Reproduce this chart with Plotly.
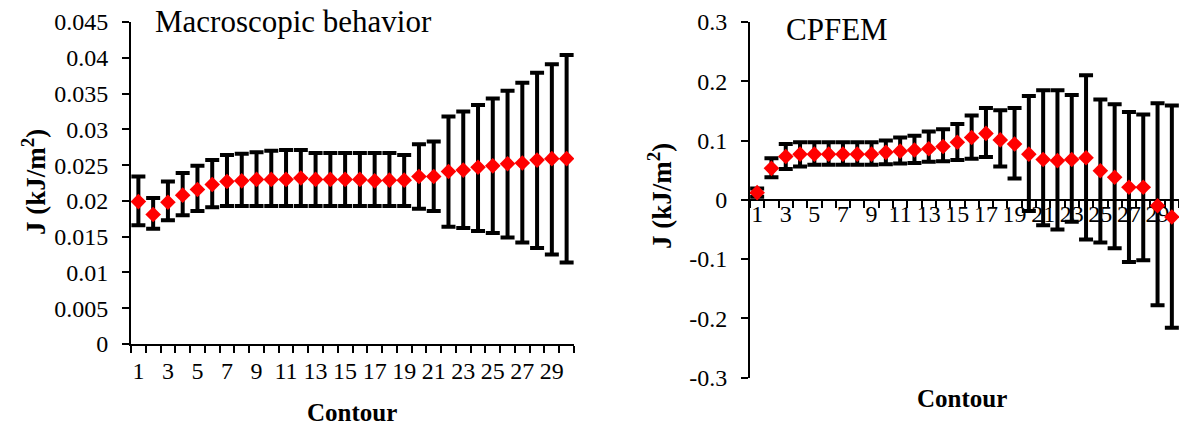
import plotly.graph_objects as go

# contour index 1..30
contour = list(range(1, 31))
x_tick_vals = list(range(1, 30, 2))
x_tick_text = [str(v) for v in x_tick_vals]

# left panel - macroscopic behaviour
macro_j = [0.0199, 0.0181, 0.0198, 0.0208, 0.0216, 0.0223, 0.0227, 0.0228, 0.0230, 0.0230,
           0.0230, 0.0232, 0.0230, 0.0230, 0.0230, 0.0230, 0.0228, 0.0229, 0.0229, 0.0234,
           0.0234, 0.0241, 0.0243, 0.0247, 0.0249, 0.0252, 0.0253, 0.0257, 0.0259, 0.0259]
macro_upper = [0.0234, 0.0204, 0.0227, 0.0239, 0.0249, 0.0257, 0.0264, 0.0266, 0.0268, 0.0270,
               0.0271, 0.0271, 0.0267, 0.0267, 0.0267, 0.0267, 0.0267, 0.0267, 0.0264, 0.0279,
               0.0283, 0.0318, 0.0325, 0.0334, 0.0343, 0.0354, 0.0365, 0.0379, 0.0391, 0.0404]
macro_lower = [0.0166, 0.0161, 0.0173, 0.0180, 0.0186, 0.0191, 0.0193, 0.0193, 0.0193, 0.0193,
               0.0193, 0.0193, 0.0193, 0.0193, 0.0193, 0.0193, 0.0193, 0.0193, 0.0193, 0.0189,
               0.0186, 0.0164, 0.0162, 0.0158, 0.0155, 0.0149, 0.0142, 0.0134, 0.0125, 0.0114]
macro_y_vals = [0, 0.005, 0.01, 0.015, 0.02, 0.025, 0.03, 0.035, 0.04, 0.045]
macro_y_text = ["0", "0.005", "0.01", "0.015", "0.02", "0.025", "0.03", "0.035", "0.04", "0.045"]

# right panel - CPFEM
cpfem_j = [0.012, 0.053, 0.073, 0.077, 0.077, 0.077, 0.077, 0.077, 0.077, 0.080,
           0.082, 0.084, 0.086, 0.090, 0.097, 0.105, 0.112, 0.101, 0.094, 0.077,
           0.068, 0.066, 0.068, 0.071, 0.049, 0.038, 0.021, 0.021, -0.010, -0.029]
cpfem_upper = [0.019, 0.070, 0.094, 0.097, 0.097, 0.097, 0.097, 0.097, 0.097, 0.100,
               0.105, 0.108, 0.115, 0.119, 0.128, 0.142, 0.155, 0.151, 0.155, 0.175,
               0.185, 0.185, 0.177, 0.210, 0.169, 0.161, 0.148, 0.144, 0.163, 0.159]
cpfem_lower = [0.005, 0.038, 0.052, 0.056, 0.059, 0.059, 0.059, 0.059, 0.059, 0.060,
               0.061, 0.062, 0.064, 0.065, 0.067, 0.069, 0.072, 0.056, 0.036, -0.019,
               -0.043, -0.050, -0.037, -0.067, -0.072, -0.082, -0.105, -0.102, -0.178, -0.216]
cpfem_y_vals = [-0.3, -0.2, -0.1, 0, 0.1, 0.2, 0.3]
cpfem_y_text = ["-0.3", "-0.2", "-0.1", "0", "0.1", "0.2", "0.3"]

W, H = 1179, 427
FONT = "Liberation Serif, Times New Roman, serif"


def err_bar(vals, upper, lower):
    return dict(
        type="data", symmetric=False,
        array=[u - v for u, v in zip(upper, vals)],
        arrayminus=[v - l for v, l in zip(vals, lower)],
        color="black", thickness=4, width=7,
    )


fig = go.Figure()

fig.add_trace(go.Scatter(
    x=contour, y=macro_j, mode="markers",
    marker=dict(symbol="diamond", size=12, color="#ff0000"),
    error_y=err_bar(macro_j, macro_upper, macro_lower),
    xaxis="x", yaxis="y", showlegend=False,
))
fig.add_trace(go.Scatter(
    x=contour, y=cpfem_j, mode="markers",
    marker=dict(symbol="diamond", size=12, color="#ff0000"),
    error_y=err_bar(cpfem_j, cpfem_upper, cpfem_lower),
    xaxis="x2", yaxis="y2", showlegend=False,
))

left_xdom = [131 / W, 574 / W]
left_ydom = [(H - 344) / H, (H - 22) / H]
right_xdom = [750 / W, 1.0]
right_ydom = [(H - 377.5) / H, (H - 22) / H]
right_range = [-0.3, 0.3]
zero_pos = right_ydom[0] + (0 - right_range[0]) / (right_range[1] - right_range[0]) * (right_ydom[1] - right_ydom[0])

tickfont = dict(family=FONT, size=24, color="black")
minor_ticks = dict(tickmode="linear", tick0=0.5, dtick=1, ticks="outside",
                   ticklen=7, tickwidth=2, tickcolor="black", showgrid=False)

xcommon = dict(
    range=[0.5, 30.5], tickmode="array", tickvals=x_tick_vals, ticktext=x_tick_text,
    ticks="", showgrid=False, zeroline=False, showline=True, linecolor="black",
    linewidth=2, tickfont=tickfont, tickangle=0, automargin=False,
    minor=minor_ticks,
)
ycommon = dict(
    showgrid=False, zeroline=False, showline=True, linecolor="black", linewidth=2,
    ticks="outside", ticklen=7, tickwidth=2, tickcolor="black", tickfont=tickfont,
    tickmode="array", ticklabelstandoff=9, automargin=False,
)

fig.update_layout(
    width=W, height=H,
    margin=dict(l=0, r=0, t=0, b=0, pad=0),
    paper_bgcolor="white", plot_bgcolor="white",
    font=dict(family=FONT, color="black"),
    xaxis=dict(domain=left_xdom, anchor="y", ticklabelstandoff=4, **xcommon),
    yaxis=dict(domain=left_ydom, anchor="x", range=[0, 0.045],
               tickvals=macro_y_vals, ticktext=macro_y_text, **ycommon),
    xaxis2=dict(domain=right_xdom, anchor="free", position=zero_pos,
                layer="below traces", ticklabelstandoff=-8, **xcommon),
    yaxis2=dict(domain=right_ydom, anchor="x2", range=right_range,
                tickvals=cpfem_y_vals, ticktext=cpfem_y_text, **ycommon),
)

ann_font = dict(family=FONT, size=31, color="black")
title_font = dict(family=FONT, size=25, color="black")
fig.add_annotation(text="Macroscopic behavior", xref="paper", yref="paper",
                   x=153 / W, y=(H - 22) / H, xanchor="left", yanchor="middle",
                   showarrow=False, font=ann_font)
fig.add_annotation(text="CPFEM", xref="paper", yref="paper",
                   x=784 / W, y=(H - 30) / H, xanchor="left", yanchor="middle",
                   showarrow=False, font=ann_font)
for xc, yc in [(34, 182), (660, 196)]:
    fig.add_annotation(text="<b>J (kJ/m<sup>2</sup>)</b>", xref="paper", yref="paper",
                       x=xc / W, y=(H - yc) / H, xanchor="center", yanchor="middle",
                       textangle=-90, showarrow=False, font=dict(family=FONT, size=27, color="black"))
for xc, yc in [(352, 412), (962, 398)]:
    fig.add_annotation(text="<b>Contour</b>", xref="paper", yref="paper",
                       x=xc / W, y=(H - yc) / H, xanchor="center", yanchor="middle",
                       showarrow=False, font=title_font)

fig.write_html("out.html", config={"displayModeBar": False},
               post_script="document.body.style.margin = '0';")
